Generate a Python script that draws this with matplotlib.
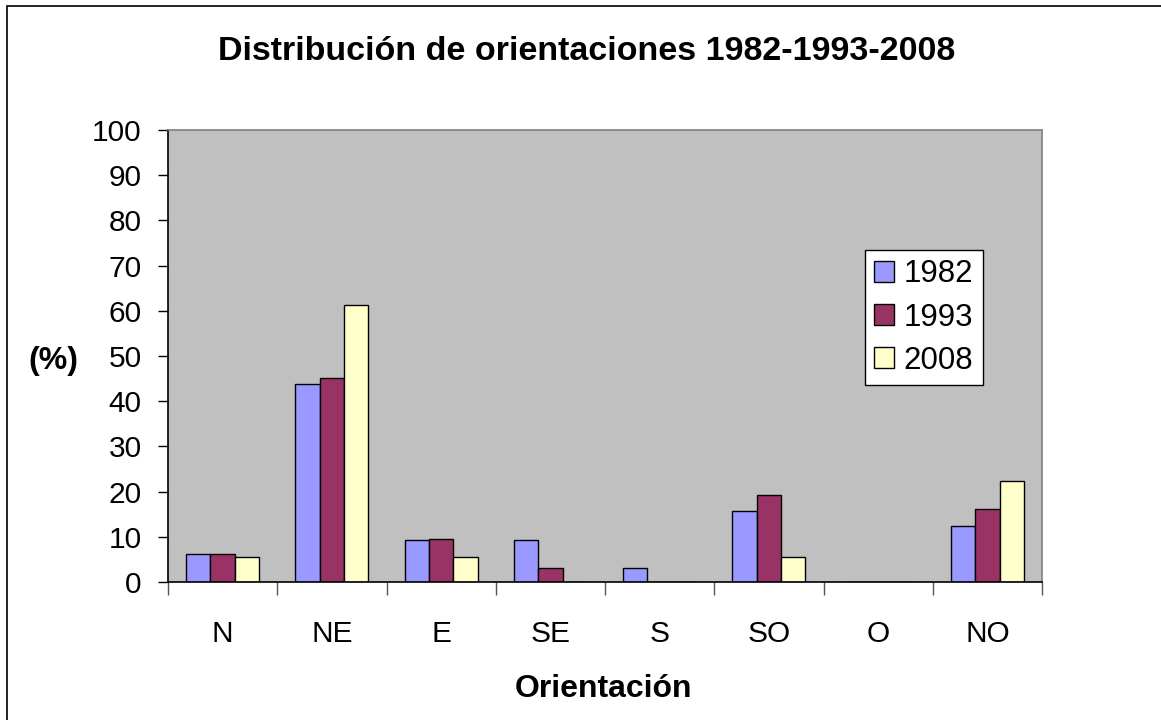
import matplotlib
matplotlib.use("Agg")
import matplotlib.pyplot as plt
from matplotlib.patches import Rectangle
import numpy as np

plt.rcParams['font.family'] = ['Liberation Sans', 'DejaVu Sans']

categories = ["N", "NE", "E", "SE", "S", "SO", "O", "NO"]
series_names = ["1982", "1993", "2008"]
v1982 = [6.3, 43.9, 9.4, 9.4, 3.0, 15.7, 0.0, 12.4]
v1993 = [6.3, 45.2, 9.6, 3.2, 0.0, 19.2, 0.0, 16.2]
v2008 = [5.6, 61.2, 5.6, 0.0, 0.0, 5.6, 0.0, 22.3]
colors = ["#9999FF", "#993366", "#FFFFCC"]
yticks = list(range(0, 101, 10))

W, H = 1161, 720
fig = plt.figure(figsize=(W / 100, H / 100), dpi=100)

# outer chart border
fig.patches.append(Rectangle((7 / W, -0.05), 1.1, 1 - 6 / H + 0.05, transform=fig.transFigure,
                             fill=False, edgecolor="black", linewidth=1.2))

ax = fig.add_axes([168 / W, (H - 582) / H, (1042 - 168) / W, 452 / H])
ax.set_facecolor("#C0C0C0")

x = np.arange(len(categories))
w = 0.222
for i, (vals, name, c) in enumerate(zip([v1982, v1993, v2008], series_names, colors)):
    ax.bar(x + (i - 1) * w, vals, width=w, color=c, edgecolor="black", linewidth=1.0, label=name)

ax.set_xlim(-0.5, len(categories) - 0.5)
ax.set_ylim(0, 100)
ax.set_yticks(yticks)
ax.tick_params(axis="y", labelsize=21.5, length=7, width=1, pad=12, direction="out")

ax.set_xticks(np.arange(-0.5, len(categories), 1.0))
ax.set_xticklabels([])
ax.tick_params(axis="x", which="major", length=9, width=1, direction="out", color="#555555")
ax.set_xticks(x, minor=True)
ax.set_xticklabels(categories, minor=True)
ax.tick_params(axis="x", which="minor", length=0, labelsize=21.5, pad=27)

for s in ["top", "right"]:
    ax.spines[s].set_color("#808080")
    ax.spines[s].set_linewidth(1.2)
for s in ["left", "bottom"]:
    ax.spines[s].set_color("black")
    ax.spines[s].set_linewidth(1.2)

fig.text(587 / W, 1 - 51 / H, "Distribución de orientaciones 1982-1993-2008", ha="center", va="center",
         fontsize=24.5, fontweight="bold")
fig.text(53 / W, 1 - 361 / H, "(%)", ha="center", va="center", fontsize=23, fontweight="bold")
fig.text(604 / W, 1 - 689 / H, "Orientación", ha="center", va="center", fontsize=23, fontweight="bold")

leg = ax.legend(loc="upper left", bbox_to_anchor=(865 / W, 1 - 250 / H), bbox_transform=fig.transFigure,
                fontsize=22.5, frameon=True, fancybox=False, edgecolor="black", framealpha=1,
                handlelength=0.64, handleheight=0.64, handletextpad=0.3, labelspacing=0.42,
                borderpad=0.3, borderaxespad=0)
leg.get_frame().set_linewidth(1.0)

fig.savefig("out.png", dpi=100)
